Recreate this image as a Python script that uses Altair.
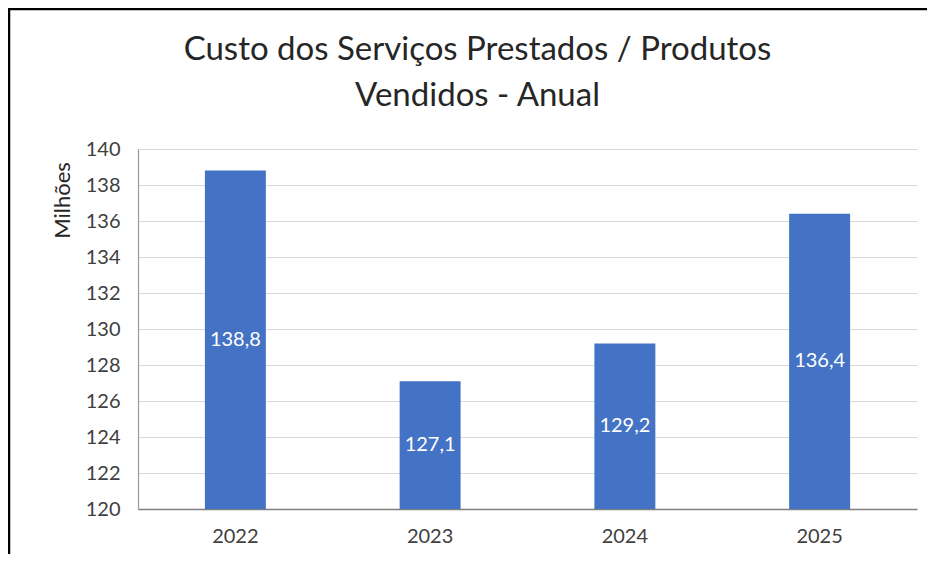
import altair as alt
import pandas as pd

years = ["2022", "2023", "2024", "2025"]
values = [138.8, 127.1, 129.2, 136.4]
labels = ["138,8", "127,1", "129,2", "136,4"]
y_ticks = [120, 122, 124, 126, 128, 130, 132, 134, 136, 138, 140]
title_lines = ["Custo dos Serviços Prestados / Produtos", "Vendidos - Anual"]
y_title = "Milhões"
base_value = 120

df = pd.DataFrame({"ano": years, "valor": values, "rotulo": labels, "base": [base_value] * len(years)})

FONT = "Lato"
TXT = "#404040"

x_scale = alt.Scale(paddingInner=0.687, paddingOuter=0.3435)
x_axis = alt.Axis(
    title=None, labelAngle=0, ticks=False, labelPadding=17, labelFontSize=20,
    labelFont=FONT, labelColor=TXT, domainColor="#7f7f7f", domainWidth=1.5,
    grid=False,
)
y_scale = alt.Scale(domain=[120, 140], nice=False, zero=False)
y_axis = alt.Axis(
    values=y_ticks, title=y_title, ticks=False, labelPadding=18, labelOverlap=False,
    labelFontSize=20, labelFont=FONT, labelColor=TXT, tickCount=11,
    gridColor="#d9d9d9", gridWidth=1.2, domainColor="#9a9a9a", domainWidth=1.2,
    titleFont=FONT, titleFontSize=22, titleFontWeight="normal", titleColor="#262626",
    titleAngle=-90, titleX=-76, titleY=51, titleAlign="center", titleBaseline="middle",
)

bars = alt.Chart(df).mark_bar(color="#4472C4").encode(
    x=alt.X("ano:N", sort=years, scale=x_scale, axis=x_axis),
    y=alt.Y("valor:Q", scale=y_scale, axis=y_axis),
    y2="base:Q",
)

text = alt.Chart(df).transform_calculate(
    meio="(datum.valor + datum.base) / 2"
).mark_text(color="white", fontSize=20, font=FONT, baseline="middle").encode(
    x=alt.X("ano:N", sort=years, scale=x_scale, axis=x_axis),
    y=alt.Y("meio:Q", scale=y_scale, axis=y_axis),
    text="rotulo:N",
)

frame_df = pd.DataFrame({"k": [0]})
top_line = alt.Chart(frame_df).mark_rule(color="black", strokeWidth=2.5).encode(
    x=alt.value(-129), x2=alt.value(795), y=alt.value(-140)
)
left_line = alt.Chart(frame_df).mark_rule(color="black", strokeWidth=2.5).encode(
    x=alt.value(-129), y=alt.value(-141), y2=alt.value(410)
)

chart = alt.layer(bars, text, top_line, left_line).properties(
    width=779,
    height=360,
    title=alt.TitleParams(
        text=title_lines, font=FONT, fontSize=33, fontWeight="normal", color="#262626",
        anchor="middle", dx=-50, lineHeight=46, offset=-139, baseline="bottom",
    ),
    autosize=alt.AutoSizeParams(type="none"),
    padding={"left": 130, "top": 141, "right": 10, "bottom": 45},
).configure(background="white").configure_view(stroke=None)

chart.save("out.html", embed_options={"renderer": "svg", "actions": False})
